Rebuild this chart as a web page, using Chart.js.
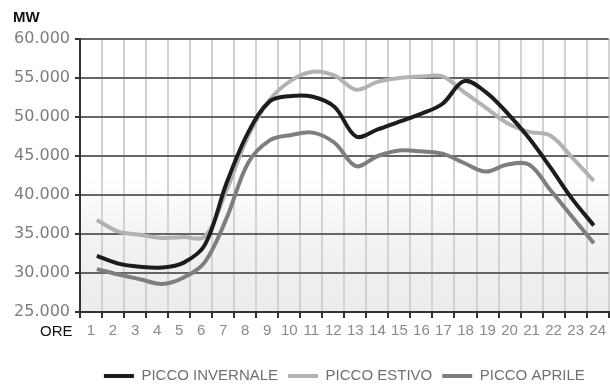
<!DOCTYPE html>
<html>
<head>
<meta charset="utf-8">
<script src="https://cdn.jsdelivr.net/npm/chart.js@4.4.1/dist/chart.umd.min.js"></script>
<style>
  html, body { margin: 0; padding: 0; background: #fff; }
  #wrap { width: 610px; height: 386px; position: relative; }
</style>
</head>
<body>
<div id="wrap"><canvas id="picchiChart"></canvas></div>
<script>
// ore del giorno
const hourLabels = ['1', '2', '3', '4', '5', '6', '7', '8', '9', '10', '11', '12',
                    '13', '14', '15', '16', '17', '18', '19', '20', '21', '22', '23', '24'];
const hours = [1, 2, 3, 4, 5, 6, 7, 8, 9, 10, 11, 12, 13, 14, 15, 16, 17, 18, 19, 20, 21, 22, 23, 24];

// MW
const piccoInvernale = [32200, 31200, 30800, 30700, 31300, 33600, 41500, 48000, 52000, 52700, 52600, 51300,
                        47500, 48400, 49400, 50400, 51700, 54600, 53200, 50500, 47300, 43500, 39500, 36100];
const piccoEstivo = [36800, 35300, 34900, 34500, 34600, 34700, 40600, 47500, 52200, 54700, 55800, 55300,
                     53500, 54500, 55000, 55200, 55200, 53200, 51200, 49200, 48100, 47600, 44800, 41800];
const piccoAprile = [30500, 29800, 29200, 28600, 29400, 31400, 37000, 44100, 47000, 47700, 48000, 46700,
                     43700, 45000, 45700, 45600, 45300, 44100, 43000, 43900, 43900, 40600, 37200, 33800];

const seriesNames = ['PICCO INVERNALE', 'PICCO ESTIVO', 'PICCO APRILE'];
const yTicks = [25000, 30000, 35000, 40000, 45000, 50000, 55000, 60000];

function toPoints(values) {
    return hours.map((h, i) => ({ x: h, y: values[i] }));
}

function makeDataset(label, values, color) {
    return {
        label: label,
        data: toPoints(values),
        xAxisID: 'xh',
        borderColor: color,
        backgroundColor: color,
        borderWidth: 4,
        pointRadius: 0,
        tension: 0.35,
        fill: false
    };
}

// sfondo sfumato dell'area del grafico + scritte MW / ORE
const decorPlugin = {
    id: 'decor',
    beforeDraw(chart) {
        const { ctx, chartArea: a } = chart;
        ctx.save();
        const g = ctx.createLinearGradient(0, a.top, 0, a.bottom);
        g.addColorStop(0, '#ffffff');
        g.addColorStop(0.5, '#ffffff');
        g.addColorStop(0.72, '#f3f3f3');
        g.addColorStop(1, '#ececec');
        ctx.fillStyle = g;
        ctx.fillRect(a.left, a.top, a.right - a.left, a.bottom - a.top);
        ctx.restore();
    },
    afterDraw(chart) {
        const ctx = chart.ctx;
        ctx.save();
        ctx.fillStyle = '#111';
        ctx.textBaseline = 'alphabetic';
        ctx.textAlign = 'left';
        ctx.font = 'bold 15px "Liberation Sans", Arial, sans-serif';
        ctx.fillText('MW', 13, 22);
        ctx.font = '15px "Liberation Sans", Arial, sans-serif';
        ctx.fillText('ORE', 40, 336);
        ctx.restore();
    }
};

Chart.defaults.font.family = '"Liberation Sans", Arial, sans-serif';
Chart.defaults.animation = false;

const ctx = document.getElementById('picchiChart').getContext('2d');
new Chart(ctx, {
    type: 'line',
    data: {
        labels: hourLabels,
        datasets: [
            makeDataset(seriesNames[0], piccoInvernale, '#1c1c1c'),
            makeDataset(seriesNames[1], piccoEstivo, '#b2b2b2'),
            makeDataset(seriesNames[2], piccoAprile, '#7e7e7e')
        ]
    },
    options: {
        responsive: true,
        maintainAspectRatio: false,
        layout: { padding: { top: 39, right: 0, bottom: -7.5, left: 0 } },
        scales: {
            x: {
                type: 'category',
                offset: true,
                grid: {
                    offset: true,
                    color: '#d2d2d2',
                    lineWidth: 2,
                    tickColor: '#333',
                    tickLength: 6
                },
                border: { color: '#333', width: 2 },
                ticks: {
                    color: '#8a8a8a',
                    font: { size: 15 },
                    padding: 4,
                    maxRotation: 0,
                    autoSkip: false
                },
                afterFit(s) { s.height = 46.5; }
            },
            xh: {
                type: 'linear',
                display: false,
                min: 0.22,
                max: 24.69
            },
            y: {
                min: 25000,
                max: 60000,
                afterBuildTicks(s) { s.ticks = yTicks.map(v => ({ value: v })); },
                grid: {
                    color: '#666',
                    lineWidth: 2,
                    tickColor: '#333',
                    tickLength: 5
                },
                border: { color: '#333', width: 2 },
                ticks: {
                    color: '#7d7d7d',
                    font: { family: '"DejaVu Sans", sans-serif', size: 16 },
                    padding: 5,
                    callback: v => (v / 1000).toFixed(3)
                },
                afterFit(s) { s.width = 80; }
            }
        },
        plugins: {
            legend: {
                position: 'bottom',
                fullSize: false,
                labels: {
                    color: '#707070',
                    font: { size: 15 },
                    usePointStyle: true,
                    pointStyle: 'line',
                    pointStyleWidth: 30,
                    boxHeight: 4,
                    padding: 10
                }
            },
            tooltip: { enabled: false }
        }
    },
    plugins: [decorPlugin]
});
</script>
</body>
</html>
